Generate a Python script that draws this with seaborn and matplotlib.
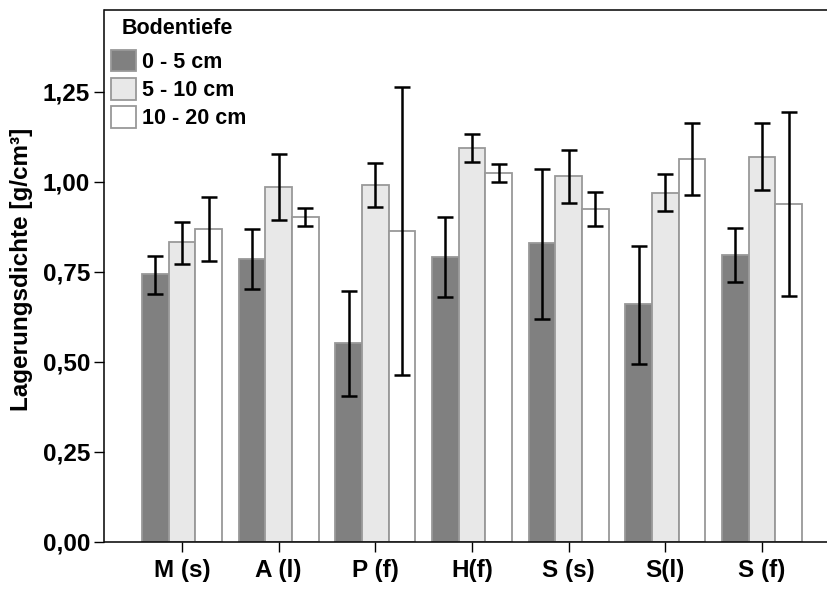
import numpy as np
import pandas as pd
import matplotlib
matplotlib.use("Agg")
import matplotlib.pyplot as plt
import seaborn as sns
from matplotlib.patches import Patch

# Standorte und Bodentiefen
standorte = ["M (s)", "A (l)", "P (f)", "H(f)", "S (s)", "S(l)", "S (f)"]
tiefen = ["0 - 5 cm", "5 - 10 cm", "10 - 20 cm"]

# Mittelwerte der Lagerungsdichte [g/cm³]
mittel_0_5 = [0.743, 0.787, 0.553, 0.792, 0.829, 0.660, 0.798]
mittel_5_10 = [0.832, 0.985, 0.992, 1.093, 1.015, 0.969, 1.069]
mittel_10_20 = [0.869, 0.903, 0.863, 1.025, 0.924, 1.063, 0.938]

# Fehlerbalken: obere und untere Grenze
oben_0_5 = [0.794, 0.869, 0.697, 0.902, 1.035, 0.822, 0.872]
unten_0_5 = [0.688, 0.702, 0.406, 0.681, 0.619, 0.494, 0.722]
oben_5_10 = [0.889, 1.077, 1.051, 1.132, 1.088, 1.021, 1.163]
unten_5_10 = [0.773, 0.894, 0.931, 1.055, 0.942, 0.918, 0.978]
oben_10_20 = [0.958, 0.928, 1.264, 1.050, 0.972, 1.163, 1.194]
unten_10_20 = [0.781, 0.878, 0.464, 1.000, 0.876, 0.962, 0.682]

y_ticks = [0.0, 0.25, 0.5, 0.75, 1.0, 1.25]
y_tick_labels = ["0,00", "0,25", "0,50", "0,75", "1,00", "1,25"]

farben = ["#808080", "#e8e8e8", "#ffffff"]
kante = "#999999"

mittel = [mittel_0_5, mittel_5_10, mittel_10_20]
oben = [oben_0_5, oben_5_10, oben_10_20]
unten = [unten_0_5, unten_5_10, unten_10_20]

df = pd.DataFrame({
    "Standort": np.tile(standorte, len(tiefen)),
    "Tiefe": np.repeat(tiefen, len(standorte)),
    "Dichte": np.concatenate(mittel),
})

sns.set_style("ticks")
plt.rcParams["font.family"] = ["Liberation Sans", "DejaVu Sans"]
plt.rcParams["font.weight"] = "bold"
plt.rcParams["text.color"] = "black"
plt.rcParams["axes.labelcolor"] = "black"
plt.rcParams["xtick.color"] = "black"
plt.rcParams["ytick.color"] = "black"

W, H = 828, 590
fig = plt.figure(figsize=(W / 100, H / 100), dpi=100)
ax = fig.add_axes([104.5 / W, 48 / H, (830 - 104.5) / W, 532 / H])

sns.barplot(
    data=df, x="Standort", y="Dichte", hue="Tiefe",
    order=standorte, hue_order=tiefen, palette=farben,
    edgecolor=kante, linewidth=1.3, width=0.83,
    errorbar=None, legend=False, ax=ax,
)

# Fehlerbalken an den Balkenmitten
balken = list(ax.containers)
for i, cont in enumerate(balken):
    xs = [b.get_x() + b.get_width() / 2 for b in cont]
    m = np.array(mittel[i])
    err = np.vstack([m - np.array(unten[i]), np.array(oben[i]) - m])
    ax.errorbar(xs, m, yerr=err, fmt="none", ecolor="black",
                elinewidth=1.8, capsize=5.5, capthick=1.8, zorder=5)

ax.set_xlim(-0.802, 6.703)
ax.set_ylim(0, 1.477)
ax.set_yticks(y_ticks)
ax.set_yticklabels(y_tick_labels)
ax.set_xlabel("")
ax.set_ylabel("Lagerungsdichte [g/cm³]", fontsize=17.5, fontweight="bold",
              color="black")
ax.yaxis.set_label_coords(-0.0986, 0.513)

ax.tick_params(axis="both", direction="out", length=7.5, width=1,
               labelsize=17.5, color="black", labelcolor="black")
ax.tick_params(axis="x", pad=5)
ax.tick_params(axis="y", pad=3)
for lab in ax.get_xticklabels() + ax.get_yticklabels():
    lab.set_fontweight("bold")

for side in ["left", "bottom", "top"]:
    ax.spines[side].set_visible(True)
    ax.spines[side].set_color("black")
    ax.spines[side].set_linewidth(1.1)
ax.spines["right"].set_visible(False)

# Legende
handles = [Patch(facecolor=f, edgecolor=kante, linewidth=1.3) for f in farben]
leg = ax.legend(
    handles, tiefen, loc="upper left",
    bbox_to_anchor=(111.5 / W, (H - 50) / H), bbox_transform=fig.transFigure,
    frameon=False, handlelength=1.15, handleheight=1.15,
    handletextpad=0.25, labelspacing=0.24, borderpad=0, borderaxespad=0,
    prop={"weight": "bold", "size": 15.5}, labelcolor="black",
)
fig.text(122 / W, (H - 28) / H, "Bodentiefe", fontsize=15.5,
         fontweight="bold", ha="left", va="center", color="black")

fig.savefig("out.png", dpi=100)
